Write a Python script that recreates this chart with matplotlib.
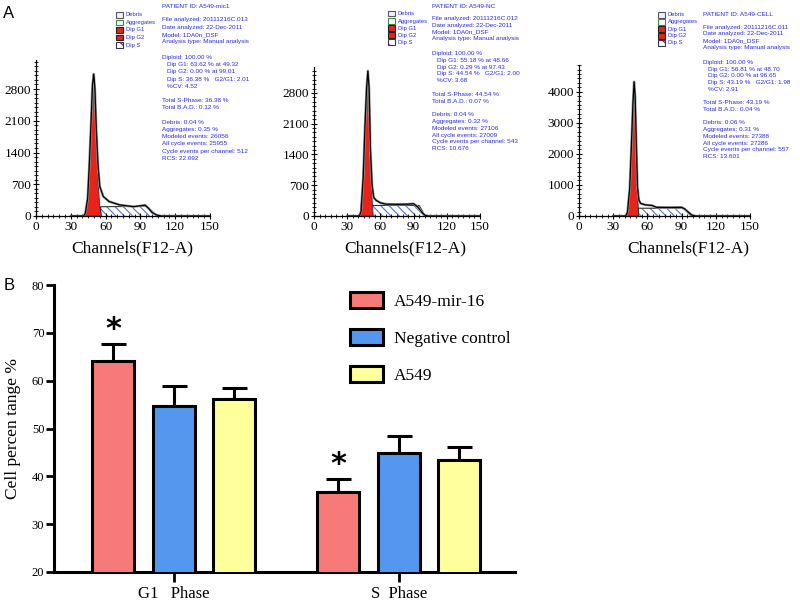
import matplotlib

matplotlib.use("Agg")

import matplotlib.pyplot as plt
import numpy as np
from matplotlib.patches import Rectangle
from matplotlib.ticker import MultipleLocator

plt.rcParams["font.family"] = ["Liberation Serif", "DejaVu Serif"]
plt.rcParams["hatch.linewidth"] = 0.8

W, H = 800, 608

# ---------------------------------------------------------------- panel A data
# one entry per sample: outline of the histogram, G1 peak, G2 sliver, S-phase band
sample_ids = ["A549-mic1", "A549-NC", "A549-CELL"]

outline_ch = [
    [30, 41, 42.5, 44.5, 46, 47.5, 48.7, 49.8, 50.8, 52, 53.5, 55, 58, 63, 72, 84, 90, 94, 97, 100, 104, 108, 150],
    [30, 41, 42.5, 44.5, 46, 47.5, 48.7, 49.8, 51, 52.5, 54, 56, 60, 65, 75, 85, 90, 94, 97, 100, 103, 150],
    [30, 41, 42.5, 44.5, 46, 47.3, 48.3, 49.2, 50.3, 51.3, 52.5, 54, 58, 64, 68, 80, 90, 93, 96, 99, 102, 150],
]
outline_ct = [
    [0, 0, 60, 380, 1150, 2100, 2900, 3130, 2800, 1900, 1100, 650, 430, 320, 245, 206, 225, 240, 170, 80, 20, 0, 0],
    [0, 0, 100, 900, 2000, 2900, 3300, 2900, 1500, 700, 420, 360, 300, 270, 265, 270, 280, 200, 100, 20, 0, 0],
    [0, 0, 120, 900, 2300, 3600, 4320, 3900, 2300, 944, 515, 407, 360, 340, 280, 275, 280, 220, 120, 30, 0, 0],
]

g1_ch = [
    [42.5, 44.5, 46, 47.5, 48.7, 49.8, 50.8, 52, 53.5, 55, 56.5],
    [41.5, 43.5, 45, 46.5, 47.8, 48.7, 49.6, 50.8, 52, 53.5],
    [42.5, 44.5, 46, 47.2, 48.2, 48.8, 49.6, 50.5, 51.5, 52.5],
]
g1_ct = [
    [0, 300, 1000, 1900, 2650, 2950, 2600, 1700, 800, 200, 0],
    [0, 500, 1400, 2400, 3100, 3230, 2900, 1700, 600, 0],
    [0, 700, 2200, 3500, 4150, 4200, 3300, 1800, 600, 0],
]

g2_ch = [[50.5, 56, 56], [47.6, 52, 52], [46, 52, 52]]
g2_ct = [[0, 205, 0], [0, 240, 0], [0, 250, 0]]

s_ch = [
    [56, 56, 75, 95, 100, 104],
    [52, 52, 75, 95, 98, 100],
    [52, 52, 75, 92, 96, 99],
]
s_ct = [
    [0, 205, 208, 215, 110, 0],
    [0, 240, 240, 240, 110, 0],
    [0, 250, 250, 250, 120, 0],
]

y_ticks = [[0, 700, 1400, 2100, 2800], [0, 700, 1400, 2100, 2800], [0, 1000, 2000, 3000, 4000]]
y_tops = [3440, 3390, 4860]

report_lines = [
    ["PATIENT ID: A549-mic1", "File analyzed: 20111216C.013", "Date analyzed: 22-Dec-2011",
     "Model: 1DA0n_DSF", "Analysis type: Manual analysis", "Diploid: 100.00 %",
     "Dip G1: 63.62 % at 49.32", "Dip G2: 0.00 % at 99.01", "Dip S: 36.38 %   G2/G1: 2.01",
     "%CV: 4.52", "Total S-Phase: 36.38 %", "Total B.A.D.: 0.12 %", "Debris: 0.04 %",
     "Aggregates: 0.35 %", "Modeled events: 26056", "All cycle events: 25955",
     "Cycle events per channel: 512", "RCS: 22.092"],
    ["PATIENT ID: A549-NC", "File analyzed: 20111216C.012", "Date analyzed: 22-Dec-2011",
     "Model: 1DA0n_DSF", "Analysis type: Manual analysis", "Diploid: 100.00 %",
     "Dip G1: 55.18 % at 48.66", "Dip G2: 0.29 % at 97.43", "Dip S: 44.54 %   G2/G1: 2.00",
     "%CV: 3.68", "Total S-Phase: 44.54 %", "Total B.A.D.: 0.07 %", "Debris: 0.04 %",
     "Aggregates: 0.32 %", "Modeled events: 27106", "All cycle events: 27009",
     "Cycle events per channel: 543", "RCS: 10.676"],
    ["PATIENT ID: A549-CELL", "File analyzed: 20111216C.011", "Date analyzed: 22-Dec-2011",
     "Model: 1DA0n_DSF", "Analysis type: Manual analysis", "Diploid: 100.00 %",
     "Dip G1: 56.81 % at 48.70", "Dip G2: 0.00 % at 96.65", "Dip S: 43.19 %   G2/G1: 1.98",
     "%CV: 2.91", "Total S-Phase: 43.19 %", "Total B.A.D.: 0.04 %", "Debris: 0.06 %",
     "Aggregates: 0.31 %", "Modeled events: 27388", "All cycle events: 27286",
     "Cycle events per channel: 557", "RCS: 13.601"],
]
legend_labels_a = ["Debris", "Aggregates", "Dip G1", "Dip G2", "Dip S"]

# ---------------------------------------------------------------- panel B data
phases = ["G1   Phase", "S  Phase"]
groups = ["A549-mir-16", "Negative control", "A549"]
mir16_mean = [64.1, 36.8]
mir16_err = [3.6, 2.6]
nc_mean = [54.8, 44.8]
nc_err = [4.1, 3.6]
a549_mean = [56.1, 43.4]
a549_err = [2.4, 2.8]
mir16_signif = [True, True]

# ---------------------------------------------------------------- layout (pixels)
hist_boxes = [(36, 210, 60), (314, 480, 67), (579, 750, 65)]  # left, right, top
hist_base = 216
text_x = [162, 432, 703]
text_top = [7, 6, 15]
text_step = [7.2, 6.8, 6.75]
line_units = [0, 1.8, 2.8, 3.8, 4.8, 7, 8, 9, 10, 11, 13, 14, 16, 17, 18, 19, 20, 21]
indented = {6, 7, 8, 9}
leg_x = [116, 388, 658]
leg_y = [[15, 22.3, 30, 37.3, 45], [13.3, 21, 28.3, 35, 42.3], [15, 21.7, 29, 36, 42.7]]
xlabel_x = [132, 405, 688]

RED = "#E8231A"
DARK_RED = "#B01E24"
HATCH_BLUE = "#5573CF"
REPORT_BLUE = "#2A2AE6"


def fx(px):
    return px / W


def fy(py):
    return 1 - py / H


fig = plt.figure(figsize=(W / 100, H / 100), dpi=100)
fig.patch.set_facecolor("white")

for i in range(3):
    left, right, top = hist_boxes[i]
    ax = fig.add_axes([fx(left), fy(hist_base), (right - left) / W, (hist_base - top) / H])
    ax.fill_between(s_ch[i], s_ct[i], facecolor="white", edgecolor=HATCH_BLUE,
                    hatch="\\\\\\\\", linewidth=0, zorder=1)
    ax.plot(s_ch[i][1:], s_ct[i][1:], color="#333333", lw=0.8, zorder=2)
    ax.fill(g2_ch[i], g2_ct[i], facecolor=DARK_RED, edgecolor="#333333", lw=0.5, zorder=3)
    ax.fill(g1_ch[i], g1_ct[i], facecolor=RED, edgecolor="#222222", lw=0.5, zorder=4)
    ax.plot(outline_ch[i], outline_ct[i], color="#999999", lw=1.8, zorder=5)
    ax.plot(outline_ch[i], outline_ct[i], color="black", lw=0.9, zorder=6)

    ax.set_xlim(0, 150)
    ax.set_ylim(0, y_tops[i])
    ax.set_xticks([0, 30, 60, 90, 120, 150])
    ax.set_yticks(y_ticks[i])
    ax.xaxis.set_minor_locator(MultipleLocator(5))
    ax.yaxis.set_minor_locator(MultipleLocator(y_ticks[i][1] / 7))
    ax.tick_params(which="major", direction="inout", length=5, width=0.8, labelsize=9.5, pad=1)
    ax.tick_params(which="minor", direction="inout", length=3, width=0.6)
    for side in ["top", "right"]:
        ax.spines[side].set_visible(False)
    for side in ["left", "bottom"]:
        ax.spines[side].set_linewidth(0.9)
    ax.patch.set_alpha(0)

    fig.text(fx(xlabel_x[i]), fy(248), "Channels(F12-A)", ha="center", va="center", fontsize=12.5)

    # report text
    for j, line in enumerate(report_lines[i]):
        x = text_x[i] + (5 if j in indented else 0)
        y = text_top[i] + line_units[j] * text_step[i]
        fig.text(fx(x), fy(y), line, ha="left", va="center", fontsize=4.6,
                 color=REPORT_BLUE, family="Liberation Sans")

    # small legend boxes
    styles = [
        dict(facecolor="#F0F2F8", edgecolor="#555566"),
        dict(facecolor="white", edgecolor="#3C8A3C"),
        dict(facecolor=RED, edgecolor="#222222"),
        dict(facecolor=RED, edgecolor="#222222"),
        dict(facecolor="white", edgecolor="#333355", hatch="\\\\\\"),
    ]
    for j, lab in enumerate(legend_labels_a):
        yy = leg_y[i][j]
        fig.add_artist(Rectangle((fx(leg_x[i]), fy(yy + 2.8)), 7 / W, 5.6 / H,
                                 transform=fig.transFigure, lw=0.8, **styles[j]))
        fig.text(fx(leg_x[i] + 10), fy(yy), lab, ha="left", va="center", fontsize=4.2,
                 color=REPORT_BLUE, family="Liberation Sans")

fig.text(fx(9), fy(13), "A", ha="center", va="center", fontsize=12, family="Liberation Sans")
fig.text(fx(9), fy(285), "B", ha="center", va="center", fontsize=12, family="Liberation Sans")

# ---------------------------------------------------------------- panel B
axb = fig.add_axes([fx(54), fy(572), (515 - 54) / W, (572 - 285) / H])
x = np.arange(len(phases))
width = 0.187
step = 0.269
bar_colors = ["#F87A78", "#5398EE", "#FFFF9C"]
series = [(mir16_mean, mir16_err), (nc_mean, nc_err), (a549_mean, a549_err)]
handles = []
for k, ((mean, err), color, name) in enumerate(zip(series, bar_colors, groups)):
    pos = x + (k - 1) * step
    b = axb.bar(pos, mean, width, color=color, edgecolor="black", linewidth=2.2,
                label=name, zorder=3)
    handles.append(b)
    axb.errorbar(pos, mean, yerr=[np.zeros(len(err)), err], fmt="none", ecolor="black",
                 elinewidth=2.2, capsize=9, capthick=2.2, zorder=2)
    if k == 0:
        for p, m, e, s in zip(pos, mean, err, mir16_signif):
            if s:
                axb.text(p, m + e + 3.0, "*", ha="center", va="center", fontsize=22,
                         fontweight="bold", family="DejaVu Sans")

axb.set_xlim(-0.533, 1.516)
axb.set_ylim(20, 80)
axb.set_yticks(np.arange(20, 81, 10))
axb.set_xticks(x)
axb.set_xticklabels(phases, fontsize=12)
axb.tick_params(axis="y", direction="out", length=6, width=2, labelsize=9, pad=1)
axb.tick_params(axis="x", direction="out", length=7, width=2, pad=3)
for side in ["top", "right"]:
    axb.spines[side].set_visible(False)
for side in ["left", "bottom"]:
    axb.spines[side].set_linewidth(2.2)
axb.set_ylabel("Cell percen tange %", fontsize=12.5, labelpad=8)

axb.legend(handles=handles, loc="upper left", bbox_to_anchor=(fx(350), fy(292)),
           bbox_transform=fig.transFigure, frameon=False, fontsize=12.5,
           handlelength=1.9, handleheight=1.05, labelspacing=1.1, handletextpad=0.65,
           borderpad=0, borderaxespad=0)

fig.savefig("out.png", dpi=100, facecolor="white")
